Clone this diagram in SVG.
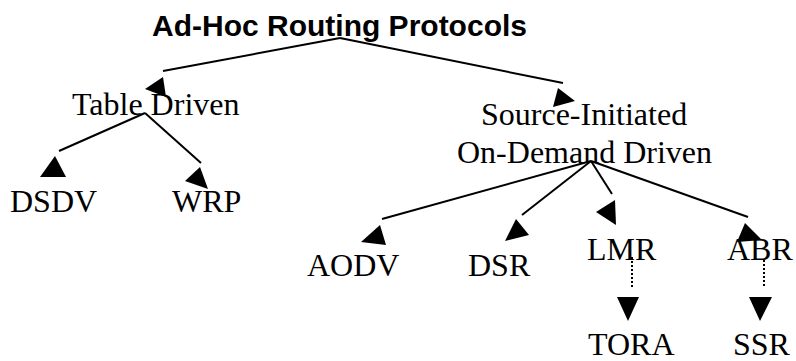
<svg xmlns="http://www.w3.org/2000/svg" width="796" height="361" viewBox="0 0 796 361">
  <style>
    .title { font-family: "Liberation Sans", Arial, sans-serif; font-weight: bold; font-size: 30px; fill: #000; }
    .lbl { font-family: "Liberation Serif", "Times New Roman", serif; font-size: 32px; fill: #000; }
    .edge { stroke: #000; stroke-width: 2; fill: none; }
    .dot { stroke: #000; stroke-width: 2; stroke-dasharray: 2 2; fill: none; }
    .head { fill: #000; stroke: none; }
  </style>
  <rect width="796" height="361" fill="#fff"/>

  <!-- connectors: lines with separately placed arrowheads -->
  <g id="connectors">
    <line class="edge" x1="340" y1="38" x2="163" y2="71"/>
    <polygon class="head" points="145,89 163,77 166,97"/>
    <line class="edge" x1="340" y1="38" x2="563" y2="83"/>
    <polygon class="head" points="553,107 558,88 575,101"/>

    <line class="edge" x1="145" y1="113" x2="59" y2="151"/>
    <polygon class="head" points="55,156 40,177 66,177"/>
    <line class="edge" x1="145" y1="113" x2="201" y2="163"/>
    <polygon class="head" points="185,181 200,167 208,189"/>

    <line class="edge" x1="591" y1="161" x2="382" y2="219"/>
    <polygon class="head" points="361,242 380,225 386,245"/>
    <line class="edge" x1="591" y1="161" x2="522" y2="215"/>
    <polygon class="head" points="505,241 516,219 529,235"/>
    <line class="edge" x1="591" y1="161" x2="612" y2="194"/>
    <polygon class="head" points="596,212 615,200 616,225"/>
    <line class="edge" x1="591" y1="161" x2="748" y2="217"/>
    <polygon class="head" points="745,223 762,240 737,242"/>

    <line class="dot" x1="632" y1="257" x2="632" y2="288"/>
    <polygon class="head" points="617,297 639,297 628,321"/>
    <line class="dot" x1="764" y1="260" x2="764" y2="288"/>
    <polygon class="head" points="749,297 772,297 760,321"/>
  </g>

  <g id="root"><text class="title" x="152" y="36">Ad-Hoc Routing Protocols</text></g>
  <g id="table-driven"><text class="lbl" x="72" y="115">Table Driven</text></g>
  <g id="on-demand">
    <text class="lbl" x="481" y="125">Source-Initiated</text>
    <text class="lbl" x="457" y="163">On-Demand Driven</text>
  </g>
  <g id="dsdv"><text class="lbl" x="10" y="212">DSDV</text></g>
  <g id="wrp"><text class="lbl" x="172" y="212">WRP</text></g>
  <g id="aodv"><text class="lbl" x="307" y="276">AODV</text></g>
  <g id="dsr"><text class="lbl" x="468" y="276">DSR</text></g>
  <g id="lmr"><text class="lbl" x="587" y="260">LMR</text></g>
  <g id="abr"><text class="lbl" x="727" y="260">ABR</text></g>
  <g id="tora"><text class="lbl" x="588" y="355">TORA</text></g>
  <g id="ssr"><text class="lbl" x="733" y="355">SSR</text></g>
</svg>
